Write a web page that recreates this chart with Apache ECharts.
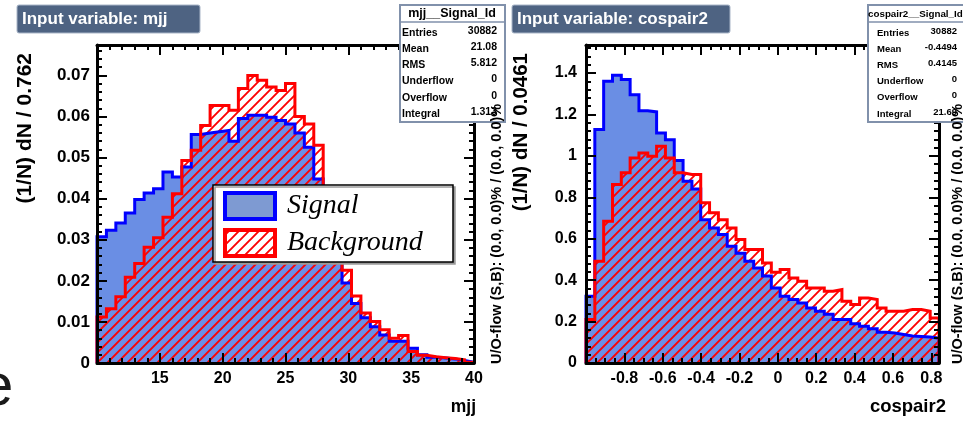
<!DOCTYPE html>
<html>
<head>
<meta charset="utf-8">
<script src="https://cdn.jsdelivr.net/npm/echarts@6/dist/echarts.min.js"></script>
<style>
  html, body { margin: 0; padding: 0; background: #fff; }
  #chart { width: 963px; height: 421px; }
</style>
</head>
<body>
<div id="chart"></div>
<script>
// mjj panel: 40 bins from 10 to 40
const mjjMin = 10
const mjjBinWidth = 0.75
const mjjSignal = [
  0.0307, 0.0323, 0.0341, 0.0365, 0.0398, 0.0414, 0.0424, 0.0465, 0.0453, 0.0477,
  0.0556, 0.0560, 0.0563, 0.0566, 0.0540, 0.0595, 0.0603, 0.0603, 0.0598, 0.0590,
  0.0582, 0.0560, 0.0525, 0.0448, 0.0380, 0.0300, 0.0195, 0.0145, 0.0110, 0.0088,
  0.0068, 0.0053, 0.0053, 0.0036, 0.0020, 0.0014, 0.0012, 0.0010, 0.0006, 0.0002,
]
const mjjBackground = [
  0.0112, 0.0132, 0.0161, 0.0209, 0.0242, 0.0282, 0.0305, 0.0355, 0.0412, 0.0493,
  0.0518, 0.0578, 0.0627, 0.0627, 0.0615, 0.0668, 0.0700, 0.0688, 0.0672, 0.0663,
  0.0680, 0.0600, 0.0582, 0.0530, 0.0400, 0.0300, 0.0226, 0.0163, 0.0122, 0.0101,
  0.0081, 0.0060, 0.0067, 0.0028, 0.0019, 0.0015, 0.0013, 0.0011, 0.0008, 0.0002,
]

// cospair2 panel: 40 bins from -1
const cosMin = -1
const cosBinWidth = 0.046
const cosSignal = [
  0.322, 1.127, 1.360, 1.389, 1.368, 1.295, 1.218, 1.212, 1.110, 1.078,
  0.977, 0.877, 0.840, 0.692, 0.652, 0.620, 0.563, 0.530, 0.491, 0.459,
  0.420, 0.362, 0.322, 0.307, 0.290, 0.266, 0.250, 0.235, 0.210, 0.210,
  0.190, 0.177, 0.165, 0.148, 0.145, 0.138, 0.130, 0.128, 0.125, 0.120,
]
const cosBackground = [
  0.210, 0.491, 0.684, 0.862, 0.918, 0.990, 1.014, 0.998, 1.046, 0.990,
  0.918, 0.910, 0.910, 0.773, 0.725, 0.692, 0.652, 0.596, 0.548, 0.548,
  0.483, 0.438, 0.451, 0.410, 0.395, 0.362, 0.362, 0.346, 0.354, 0.298,
  0.282, 0.314, 0.306, 0.266, 0.250, 0.250, 0.258, 0.258, 0.250, 0.217,
]

const mjjStats = [['Entries', '30882'], ['Mean', '21.08'], ['RMS', '5.812'], ['Underflow', '0'], ['Overflow', '0'], ['Integral', '1.313']]
const cosStats = [['Entries', '30882'], ['Mean', '-0.4494'], ['RMS', '0.4145'], ['Underflow', '0'], ['Overflow', '0'], ['Integral', '21.69']]

const uoText = 'U/O-flow (S,B): (0.0, 0.0)% / (0.0, 0.0)%'
const FONT = 'Liberation Sans, Arial, sans-serif'
const SERIF = 'Liberation Serif, Times New Roman, serif'

// step outline points from bin values
function histPoints(min, width, values) {
  const pts = [[min, 0]]
  values.forEach((v, i) => pts.push([min + i * width, v]))
  const end = min + values.length * width
  pts.push([end, values[values.length - 1]])
  pts.push([end, 0])
  return pts
}

// red "/" hatch tile
function hatchTile(bg) {
  const s = 10
  const c = document.createElement('canvas')
  c.width = s
  c.height = s
  const g = c.getContext('2d')
  if (bg) {
    g.fillStyle = bg
    g.fillRect(0, 0, s, s)
  }
  g.strokeStyle = '#ff0000'
  g.lineWidth = 1.9
  g.beginPath()
  g.moveTo(-2, s + 2); g.lineTo(s + 2, -2)
  g.moveTo(-2, 2); g.lineTo(2, -2)
  g.moveTo(s - 2, s + 2); g.lineTo(s + 2, s - 2)
  g.stroke()
  return { image: c, repeat: 'repeat' }
}

function onGrid(v, step) {
  const k = Math.round(v / step)
  return Math.abs(v - k * step) < step * 1e-4 ? k : null
}

function axisPair(gridIndex, min, max, interval, minorSplit, fmt, dim, margin, fontSize) {
  const common = {
    gridIndex, type: 'value', min, max, interval, z: 10,
    splitLine: { show: false },
    axisLine: { show: true, onZero: false, lineStyle: { color: '#000', width: 3 } },
    axisTick: { show: true, inside: true, length: 10, lineStyle: { color: '#000', width: 2 } },
    minorTick: { show: true, splitNumber: minorSplit, length: 5, lineStyle: { color: '#000', width: 2 } },
  }
  return [
    Object.assign({}, common, {
      position: dim === 'x' ? 'bottom' : 'left',
      axisLabel: { formatter: fmt, color: '#000', fontFamily: FONT, fontWeight: 'bold', fontSize, margin },
    }),
    Object.assign({}, common, {
      position: dim === 'x' ? 'top' : 'right',
      axisLabel: { show: false },
    }),
  ]
}

const fmtMjjX = v => {
  const k = onGrid(v, 5)
  return k === null || k * 5 <= 10 ? '' : String(k * 5)
}
const fmtMjjY = v => {
  const k = onGrid(v, 0.01)
  return k === null ? '' : (k === 0 ? '0' : (k / 100).toFixed(2))
}
const fmtCosX = v => {
  const k = onGrid(v, 0.2)
  if (k === null || k * 0.2 < -0.9) return ''
  return k === 0 ? '0' : String(parseFloat((k * 0.2).toFixed(1)))
}
const fmtCosY = v => {
  const k = onGrid(v, 0.2)
  return k === null ? '' : (k === 0 ? '0' : String(parseFloat((k * 0.2).toFixed(1))))
}

const blueFill = '#6a8ee4'
const hatch = hatchTile(null)

function histSeries(xi, yi, data, color, fill) {
  return {
    type: 'line', xAxisIndex: xi, yAxisIndex: yi, data, step: 'end',
    symbol: 'none', silent: true, animation: false,
    lineStyle: { color, width: 3, join: 'miter', cap: 'butt' },
    areaStyle: { color: fill, opacity: 1 },
  }
}

function titleBox(x, w, text) {
  return [
    { type: 'rect', shape: { x, y: 5, width: w, height: 28, r: 2 }, style: { fill: '#4e6382', stroke: '#a9b6c8', lineWidth: 1 }, z: 20 },
    { type: 'text', x: x + 5, y: 19, style: { text, fill: '#fff', font: 'bold 17px ' + FONT, textVerticalAlign: 'middle' }, z: 21 },
  ]
}

function statBox(x, w, title, titleX, titleAlign, rows, labelX, valueX, titleFont, rowFont) {
  const els = [
    { type: 'rect', shape: { x, y: 5, width: w, height: 117 }, style: { fill: '#fff', stroke: '#8191ab', lineWidth: 2 }, z: 20 },
    { type: 'line', shape: { x1: x, y1: 22, x2: x + w, y2: 22 }, style: { stroke: '#8191ab', lineWidth: 1.5 }, z: 21 },
    { type: 'text', x: titleX, y: 14, style: { text: title, fill: '#000', font: titleFont, textAlign: titleAlign, textVerticalAlign: 'middle' }, z: 21 },
  ]
  rows.forEach(([k, v], i) => {
    const y = 33 + i * 16.2
    els.push({ type: 'text', x: labelX, y: y, style: { text: k, fill: '#000', font: rowFont, textVerticalAlign: 'middle' }, z: 21 })
    els.push({ type: 'text', x: valueX, y: y - 2, style: { text: v, fill: '#000', font: rowFont, textAlign: 'right', textVerticalAlign: 'middle' }, z: 21 })
  })
  return els
}

function vText(x, y, text, font, align) {
  return { type: 'text', x, y, rotation: Math.PI / 2, style: { text, fill: '#000', font, textAlign: align, textVerticalAlign: 'middle' }, z: 25 }
}

const [mjjX, mjjXTop] = axisPair(0, mjjMin, mjjMin + 40 * mjjBinWidth, 5, 5, fmtMjjX, 'x', 8, 16)
const [mjjY, mjjYRight] = axisPair(0, 0, 0.0774, 0.01, 5, fmtMjjY, 'y', 7, 17)
const [cosX, cosXTop] = axisPair(1, cosMin, cosMin + 40 * cosBinWidth, 0.2, 4, fmtCosX, 'x', 8, 16)
const [cosY, cosYRight] = axisPair(1, 0, 1.535, 0.2, 5, fmtCosY, 'y', 9, 16)

const legend = [
  { type: 'rect', shape: { x: 213, y: 185, width: 240, height: 77 }, style: { fill: '#fff', stroke: '#000', lineWidth: 1.5, shadowColor: '#9a9a9a', shadowOffsetX: 2, shadowOffsetY: 2 }, z: 20 },
  { type: 'rect', shape: { x: 225, y: 193, width: 50, height: 26 }, style: { fill: '#7e9ad2', stroke: '#0000ff', lineWidth: 4 }, z: 21 },
  { type: 'rect', shape: { x: 225, y: 230, width: 50, height: 26 }, style: { fill: hatchTile('#ffffff'), stroke: '#ff0000', lineWidth: 4 }, z: 21 },
  { type: 'text', x: 287, y: 206, style: { text: 'Signal', fill: '#000', font: 'italic 28px ' + SERIF, textVerticalAlign: 'middle' }, z: 21 },
  { type: 'text', x: 287, y: 243, style: { text: 'Background', fill: '#000', font: 'italic 28px ' + SERIF, textVerticalAlign: 'middle' }, z: 21 },
]

const chart = echarts.init(document.getElementById('chart'), null, { renderer: 'canvas' })
chart.setOption({
  animation: false,
  backgroundColor: '#fff',
  grid: [
    { left: 97, top: 45, width: 377, height: 318 },
    { left: 586, top: 45, width: 353, height: 318 },
  ],
  xAxis: [mjjX, mjjXTop, cosX, cosXTop],
  yAxis: [mjjY, mjjYRight, cosY, cosYRight],
  series: [
    histSeries(0, 0, histPoints(mjjMin, mjjBinWidth, mjjSignal), '#0000ff', blueFill),
    histSeries(0, 0, histPoints(mjjMin, mjjBinWidth, mjjBackground), '#ff0000', hatch),
    histSeries(2, 2, histPoints(cosMin, cosBinWidth, cosSignal), '#0000ff', blueFill),
    histSeries(2, 2, histPoints(cosMin, cosBinWidth, cosBackground), '#ff0000', hatch),
  ],
  graphic: [
    ...titleBox(17, 183, 'Input variable: mjj'),
    ...titleBox(512, 218, 'Input variable: cospair2'),
    ...statBox(400, 105, 'mjj__Signal_Id', 452, 'center', mjjStats, 402, 497, 'bold 12.5px ' + FONT, 'bold 10.5px ' + FONT),
    ...statBox(868, 100, 'cospair2__Signal_Id', 868, 'left', cosStats, 877, 957, 'bold 9.8px ' + FONT, 'bold 9.5px ' + FONT),
    ...legend,
    vText(25, 53, '(1/N) dN / 0.762', 'bold 21px ' + FONT, 'right'),
    vText(521, 53, '(1/N) dN / 0.0461', 'bold 20.5px ' + FONT, 'right'),
    vText(497, 364, uoText, 'bold 14.5px ' + FONT, 'left'),
    vText(958, 364, uoText, 'bold 14.5px ' + FONT, 'left'),
    { type: 'text', x: 476, y: 407, style: { text: 'mjj', fill: '#000', font: 'bold 17.5px ' + FONT, textAlign: 'right', textVerticalAlign: 'middle' }, z: 21 },
    { type: 'text', x: 946, y: 407, style: { text: 'cospair2', fill: '#000', font: 'bold 18.5px ' + FONT, textAlign: 'right', textVerticalAlign: 'middle' }, z: 21 },
    { type: 'text', x: -20, y: 388, style: { text: 'e', fill: '#1a1a1a', font: '60px ' + FONT, textVerticalAlign: 'middle' }, z: 21 },
  ],
})
window.addEventListener('resize', () => chart.resize())
</script>
</body>
</html>
